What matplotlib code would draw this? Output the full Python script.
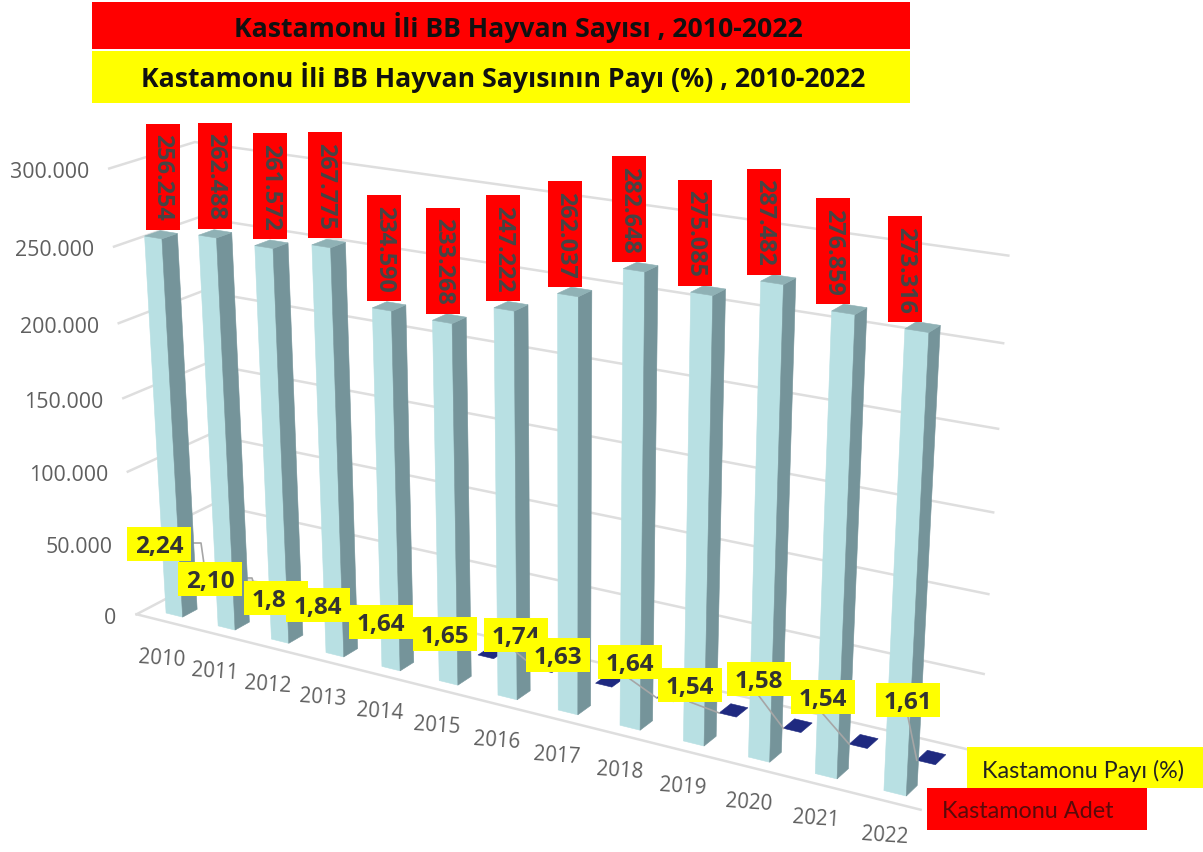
import numpy as np
import matplotlib
matplotlib.use("Agg")
import matplotlib.pyplot as plt
from matplotlib.patches import Rectangle

# ---------- data ----------
years = [2010, 2011, 2012, 2013, 2014, 2015, 2016, 2017, 2018, 2019, 2020, 2021, 2022]
adet = [256254, 262488, 261572, 267775, 234590, 233268, 247222, 262037, 282648, 275085, 287482, 276859, 273316]
payi = [2.24, 2.10, 1.85, 1.84, 1.64, 1.65, 1.74, 1.63, 1.64, 1.54, 1.58, 1.54, 1.61]
y_ticks = [0, 50000, 100000, 150000, 200000, 250000, 300000]
title_count = "Kastamonu İli BB Hayvan Sayısı , 2010-2022"
title_share = "Kastamonu İli BB Hayvan Sayısının Payı (%) , 2010-2022"
legend_share = "Kastamonu Payı (%)"
legend_count = "Kastamonu Adet"

# ---------- 3-D scene: world (year slot, value/100000, depth) -> picture pixels ----------
calib = [
    ((0, 0, 0), (166, 614)), ((3, 0, 0), (326, 653)), ((6, 0, 0), (498, 695)), ((9, 0, 0), (683, 743)), ((12, 0, 0), (884, 791)),
    ((0, 2.56254, 0), (145, 238)), ((6, 2.47222, 0), (493, 308)), ((12, 2.73316, 0), (905, 331)),
    ((0.32, 0, 1), (198, 608)), ((6.32, 0, 1), (531, 690)), ((12.32, 0, 1), (918, 787)),
    ((0.32, 2.56254, 1), (178, 235)), ((6.32, 2.47222, 1), (530, 304)), ((12.32, 2.73316, 1), (940, 326)),
    ((9, 0, 3), (718, 715)), ((9, 0, 4), (730, 705)), ((12, 0, 3), (918, 758)), ((12, 0, 4), (928, 750)),
    ((-0.36, 0, -0.75), (136, 617)), ((-0.36, 3, -0.75), (108, 170)), ((12.64, 0, -0.75), (920, 812)),
    ((-0.36, 3, 4.8), (195, 142)), ((-0.36, 0, 4.8), (216, 575)),
    ((12.64, 3, 4.8), (1008, 257)), ((12.64, 0.5, 4.8), (983, 676)),
]
rows, rhs = [], []
for (X, Y, Z), (u, v) in calib:
    rows.append([X, Y, Z, 1, 0, 0, 0, 0, -u * X, -u * Y, -u * Z]); rhs.append(u)
    rows.append([0, 0, 0, 0, X, Y, Z, 1, -v * X, -v * Y, -v * Z]); rhs.append(v)
sol = np.linalg.lstsq(np.array(rows, float), np.array(rhs, float), rcond=None)[0]
P = np.append(sol, 1.0).reshape(3, 4)


def proj(x, value, z):
    h = P @ np.array([x, value / 100000.0, z, 1.0])
    return h[0] / h[2], h[1] / h[2]


plt.rcParams['font.family'] = ['Open Sans', 'DejaVu Sans']
fig = plt.figure(figsize=(12.03, 8.53), dpi=100, facecolor='white')
ax = fig.add_axes([0, 0, 1, 1])
ax.set_xlim(0, 1203)
ax.set_ylim(853, 0)
ax.axis('off')

GRID = '#DEDEDE'
TICK = '#5F5F5F'
X0, X1 = -0.36, 12.64
Z0, Z1 = -0.75, 4.8
BAR_W, BAR_D = 0.32, 1.0

# walls and floor
for tick in y_ticks:
    a, b, c = proj(X0, tick, Z0), proj(X0, tick, Z1), proj(X1, tick, Z1)
    ax.plot([a[0], b[0], c[0]], [a[1], b[1], c[1]], color=GRID, lw=1.8, zorder=1, solid_joinstyle='miter')
    label = f"{tick:,}".replace(",", ".")
    ax.text(a[0] - 20, a[1] + 3, label, ha='right', va='center', fontsize=15.4, color=TICK, zorder=1)
a, b = proj(X0, 0, Z0), proj(X1, 0, Z0)
ax.plot([a[0], b[0]], [a[1], b[1]], color=GRID, lw=1.8, zorder=1)


def quad(corners, color, z):
    xs, ys = zip(*[proj(*c) for c in corners])
    ax.fill(xs, ys, facecolor=color, edgecolor=color, lw=0.4, zorder=z)


# second series: almost flat bars on the same axis, on the rear row
ZD0, ZD1 = 2.75, 3.75
for i, p in enumerate(payi):
    h = p * 1000
    quad([(i + 0.04, h, ZD0), (i + 0.31, h, ZD0), (i + 0.31, h, ZD1), (i + 0.04, h, ZD1)], '#1F2A80', 2)

# first series
for i, v in enumerate(adet):
    z = 3 + i * 0.01
    quad([(i, 0, 0), (i + BAR_W, 0, 0), (i + BAR_W, v, 0), (i, v, 0)], '#B8E0E3', z)
    quad([(i + BAR_W, 0, 0), (i + BAR_W, 0, BAR_D), (i + BAR_W, v, BAR_D), (i + BAR_W, v, 0)], '#75949A', z)
    quad([(i, v, 0), (i + BAR_W, v, 0), (i + BAR_W, v, BAR_D), (i, v, BAR_D)], '#8FB1B5', z)
    # year label
    bx, by = proj(i, 0, 0)
    ax.text(bx - 4 + i * 0.4, by + 45, str(years[i]), ha='center', va='center', fontsize=14.8,
            color=TICK, rotation=-4, zorder=1)
    # red value label
    tx, ty = proj(i, v, 0)
    cx, cy = tx + 18 - 1.5 * i, ty - 59.5
    ax.add_patch(Rectangle((cx - 17, cy - 53), 34, 106, facecolor='#FF0000', edgecolor='none', zorder=5))
    ax.text(cx, cy, f"{v:,}".replace(",", "."), rotation=270, ha='center', va='center',
            fontsize=16.8, fontweight='bold', color='#454545', zorder=5.1)

# share labels (hand-placed in the reference)
share_label_xy = [(159, 545), (210, 580), (276, 599), (318, 606), (381, 623), (445, 635), (516, 636),
                  (558, 656), (630, 663), (690, 686), (759, 680), (823, 698), (908, 701)]
behind_bars = {0, 1}
front_leaders = {6, 8, 9, 10, 11, 12}
for i, (lx, ly) in enumerate(share_label_xy):
    dx, dy = proj(i + 0.04, payi[i] * 1000, ZD0)
    if i in behind_bars:
        ax.plot([lx + 32, lx + 42, dx], [ly - 1, ly - 1, dy], color='#A6A6A6', lw=1.2, zorder=2.5)
    elif i in front_leaders:
        ax.plot([lx, dx], [ly + 17, dy], color='#A6A6A6', lw=1.2, zorder=4)
    z = 6 + i * 0.01
    ax.add_patch(Rectangle((lx - 32, ly - 17), 64, 34, facecolor='#FFFF00', edgecolor='none', zorder=z))
    ax.text(lx, ly + 2, f"{payi[i]:.2f}".replace(".", ","), ha='center', va='center', fontsize=17.5,
            fontweight='bold', color='#333333', zorder=z + 0.001)

# title bands
ax.add_patch(Rectangle((92, 3), 818, 47, facecolor='#FF0000', edgecolor='none', zorder=7))
ax.add_patch(Rectangle((92, 52), 818, 52, facecolor='#FFFF00', edgecolor='none', zorder=7))
ax.text(518, 27, title_count, ha='center', va='center', fontsize=19.2, fontweight='bold', color='#111111', zorder=8)
ax.text(503, 77, title_share, ha='center', va='center', fontsize=19.2, fontweight='bold', color='#111111', zorder=8)

# legend bands
ax.add_patch(Rectangle((967, 748), 236, 41, facecolor='#FFFF00', edgecolor='none', zorder=7))
ax.add_patch(Rectangle((927, 789), 220, 42, facecolor='#FF0000', edgecolor='none', zorder=7))
ax.text(982, 771, legend_share, ha='left', va='center', fontsize=16.8, family=['Lato', 'DejaVu Sans'], color='#222222', zorder=8)
ax.text(942, 812, legend_count, ha='left', va='center', fontsize=16.8, family=['Lato', 'DejaVu Sans'], color='#5A0A0A', zorder=8)

fig.savefig('out.png', dpi=100, facecolor='white')
